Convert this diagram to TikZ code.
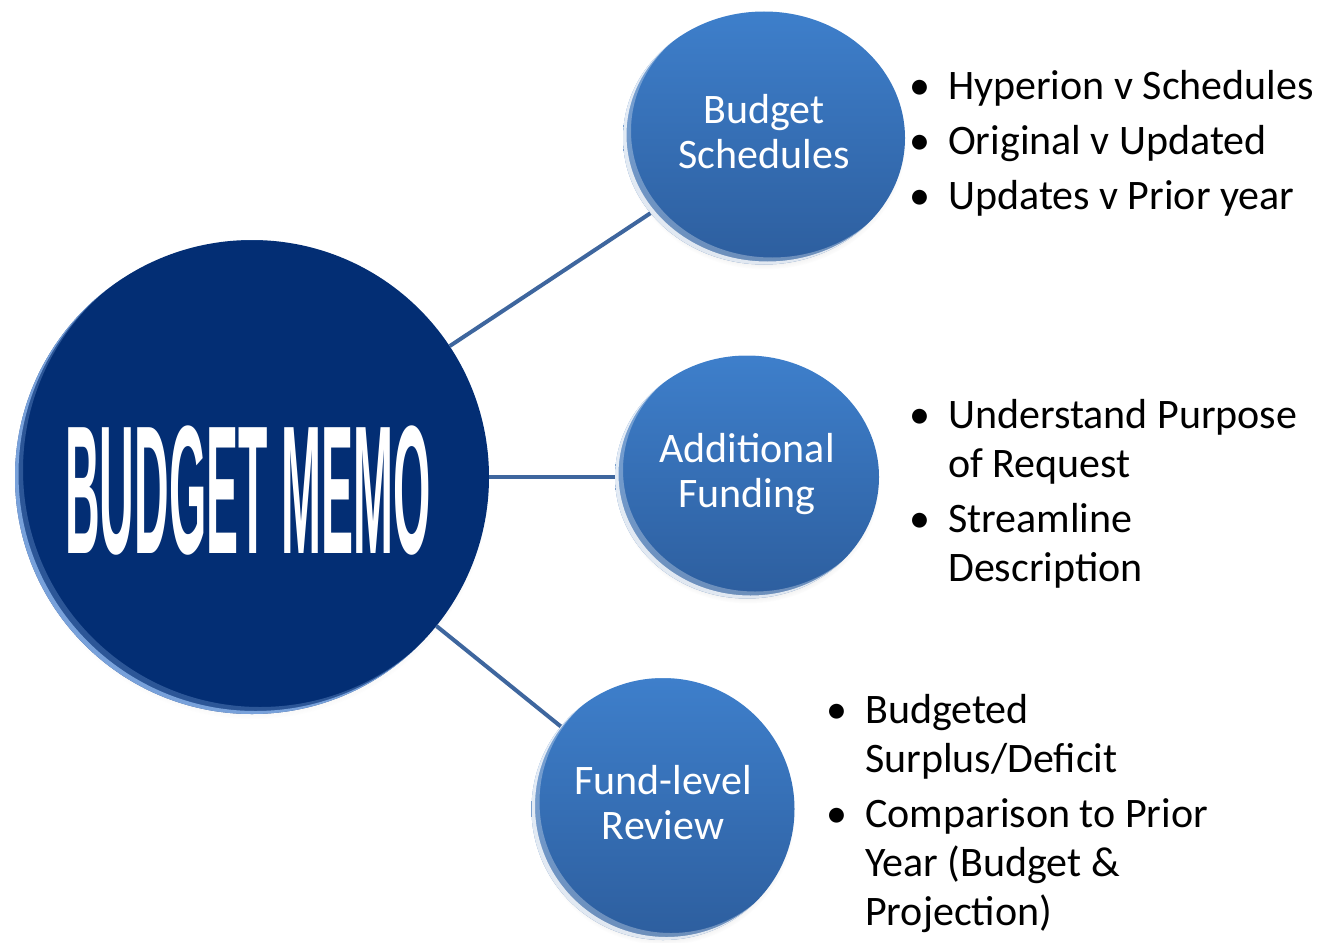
\documentclass[tikz,border=0pt]{standalone}
\usepackage{fontspec}
\setmainfont{Carlito}
\newfontfamily\memofont{Liberation Sans}
\usetikzlibrary{shapes.geometric,shadows,calc}

\definecolor{memoblue}{RGB}{3,46,116}
\definecolor{balltop}{RGB}{62,127,203}
\definecolor{ballbot}{RGB}{45,94,158}
\definecolor{linkblue}{RGB}{62,102,158}
\definecolor{rimblue}{RGB}{140,180,235}

% light crescent along the lower left edge of a disc
\tikzstyle{gloss} = [path picture={
  \fill[#1, opacity=.3, even odd rule]
    let \p1 = (path picture bounding box.north east),
        \p2 = (path picture bounding box.center) in
    (path picture bounding box.south west) rectangle (path picture bounding box.north east)
    ([shift={(8pt,7pt)}]\p2) ellipse [x radius={\x1-\x2}, y radius={\y1-\y2}];
  \fill[#1, opacity=.8, even odd rule]
    let \p1 = (path picture bounding box.north east),
        \p2 = (path picture bounding box.center) in
    (path picture bounding box.south west) rectangle (path picture bounding box.north east)
    ([shift={(3.5pt,3pt)}]\p2) ellipse [x radius={\x1-\x2}, y radius={\y1-\y2}];}]
\tikzstyle{memo} = [circle, fill=memoblue, minimum size=474pt, inner sep=0pt, text=white,
  circular drop shadow={shadow scale=1, shadow xshift=1pt, shadow yshift=-5pt, opacity=.3},
  gloss=rimblue]
\tikzstyle{ball} = [ellipse, top color=balltop, bottom color=ballbot, inner sep=0pt,
  text=white, align=center, font=\fontsize{42}{45}\selectfont,
  execute at begin node=\strut, execute at end node=\strut,
  circular drop shadow={shadow scale=1, shadow xshift=1pt, shadow yshift=-5pt, opacity=.3},
  gloss=white]
\tikzstyle{notes} = [anchor=base west, inner sep=0pt, font=\fontsize{42}{49}\selectfont]
\tikzstyle{link} = [draw=linkblue, line width=4pt]

\newcommand{\dotcell}{\makebox[56pt]{\textbullet}}

\begin{document}
\begin{tikzpicture}[x=1pt, y=-1pt]
  \useasboundingbox (0,0) rectangle (1327,942);

  \node[memo] (memo) at (252,477)
    {\raisebox{-76pt}[0pt][0pt]{\hspace*{-8pt}\scalebox{1}[3.81]{\memofont\bfseries\fontsize{48}{50}\selectfont BUDGET MEMO}}};

  \node [coordinate, right of=memo, node distance=512pt] (sched_p) {};
  \node [ball, above of=sched_p, node distance=339pt, minimum width=282pt, minimum height=253pt] (sched) {Budget\\Schedules};
  \node [ball, right of=memo, node distance=495pt, minimum width=264pt, minimum height=243pt] (fund) {Additional\\Funding};
  \node [coordinate, right of=memo, node distance=411pt] (review_p) {};
  \node [ball, below of=review_p, node distance=332pt, minimum width=263pt, minimum height=262pt] (review) {Fund-level\\Review};

  \node [right of=sched, node distance=128pt, yshift=39pt, notes] (sched_notes) {%
    \begin{tabular}[t]{@{}l@{}l@{}}
      \dotcell & Hyperion v Schedules\\[6pt]
      \dotcell & Original v Updated\\[6pt]
      \dotcell & Updates v Prior year
    \end{tabular}};
  \node [right of=fund, node distance=145pt, yshift=49pt, notes] (fund_notes) {%
    \begin{tabular}[t]{@{}l@{}l@{}}
      \dotcell & Understand Purpose\\
               & of Request\\[6pt]
      \dotcell & Streamline\\
               & Description
    \end{tabular}};
  \node [right of=review, node distance=146pt, yshift=86pt, notes] (review_notes) {%
    \begin{tabular}[t]{@{}l@{}l@{}}
      \dotcell & Budgeted\\
               & Surplus/Deficit\\[6pt]
      \dotcell & Comparison to Prior\\
               & Year (Budget \&\\
               & Projection)
    \end{tabular}};

  \draw [link] (memo) -- (sched);
  \draw [link] (memo) -- (fund);
  \draw [link] (memo) -- (review);

\end{tikzpicture}
\end{document}
